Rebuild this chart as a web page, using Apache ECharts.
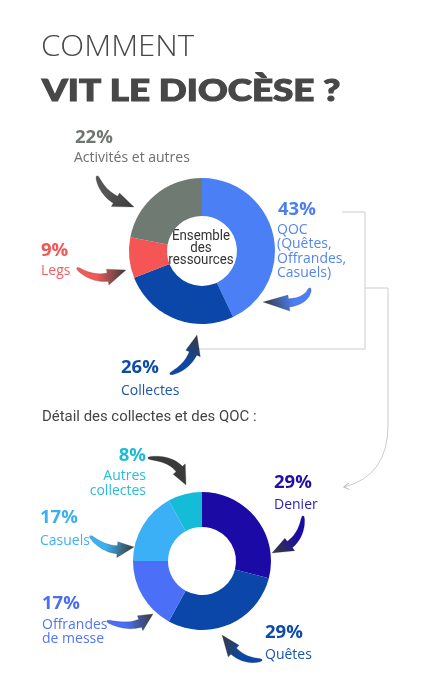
<!DOCTYPE html>
<html>
<head>
<meta charset="utf-8">
<script src="https://cdn.jsdelivr.net/npm/echarts@6/dist/echarts.min.js"></script>
<style>
html,body{margin:0;padding:0;background:#fff;}
#chart{width:421px;height:682px;}
</style>
</head>
<body>
<div id="chart"></div>
<script>
// ---- Data ----
const titleLine1 = 'COMMENT';
const titleLine2 = 'VIT LE DIOCÈSE ?';
const centerText = 'Ensemble\ndes\nressources';
const detailTitle = 'Détail des collectes et des QOC :';

const mainCategories = ['QOC\n(Quêtes,\nOffrandes,\nCasuels)', 'Collectes', 'Legs', 'Activités et autres'];
const mainValues = [43, 26, 9, 22];
const mainColors = ['#4a7ff5', '#0a47a8', '#f65555', '#6f7a72'];

const detailCategories = ['Denier', 'Quêtes', 'Offrandes\nde messe', 'Casuels', 'Autres\ncollectes'];
const detailValues = [29, 29, 17, 17, 8];
const detailColors = ['#1b0aa6', '#0b47a8', '#4b6ff6', '#3bb0f6', '#14bcd8'];

// ---- Chart ----
const chart = echarts.init(document.getElementById('chart'), null, {renderer: 'canvas'});

function pieData(cats, vals, cols) {
  return cats.map((c, i) => ({name: c, value: vals[i], itemStyle: {color: cols[i]}}));
}

// tapered curved arrow (decoration)
function arrow(p0, c, p1, color) {
  const N = 16, tHead = 0.64;
  function q(t) {
    const a = (1 - t) * (1 - t), b = 2 * (1 - t) * t, d = t * t;
    return [a * p0[0] + b * c[0] + d * p1[0], a * p0[1] + b * c[1] + d * p1[1]];
  }
  function dq(t) {
    const x = 2 * (1 - t) * (c[0] - p0[0]) + 2 * t * (p1[0] - c[0]);
    const y = 2 * (1 - t) * (c[1] - p0[1]) + 2 * t * (p1[1] - c[1]);
    const l = Math.hypot(x, y) || 1;
    return [-y / l, x / l];
  }
  const left = [], right = [];
  for (let i = 0; i <= N; i++) {
    const t = tHead * i / N;
    const p = q(t), n = dq(t);
    const w = 0.8 + 3.4 * Math.sqrt(i / N);
    left.push([p[0] + n[0] * w, p[1] + n[1] * w]);
    right.push([p[0] - n[0] * w, p[1] - n[1] * w]);
  }
  const ph = q(tHead), nh = dq(tHead);
  const hw = 8;
  const head = [[ph[0] + nh[0] * hw, ph[1] + nh[1] * hw], p1, [ph[0] - nh[0] * hw, ph[1] - nh[1] * hw]];
  const poly = left.concat(head, right.slice().reverse());
  return {
    type: 'polygon',
    silent: true,
    z: 10,
    shape: {points: poly},
    style: {
      fill: new echarts.graphic.LinearGradient(p0[0], p0[1], p1[0], p1[1],
        [{offset: 0, color: color}, {offset: 0.4, color: color}, {offset: 1, color: '#3a3a3a'}], true),
      stroke: 'rgba(50,50,50,0.35)', lineWidth: 0.6
    }
  };
}

function txt(x, y, text, color, size, weight, family, align, lh, sx, strokeW) {
  const st = {
    text: text, fill: color, fontSize: size, fontWeight: weight || 'normal',
    fontFamily: family || 'Open Sans', align: align || 'left', verticalAlign: 'middle',
    lineHeight: lh || size * 1.2
  };
  if (strokeW) { st.stroke = color; st.lineWidth = strokeW; }
  return {type: 'text', silent: true, x: x, y: y, scaleX: sx || 1, style: st};
}

const PF = 'Open Sans';
const graphics = [
  txt(41, 47, titleLine1, '#474747', 30, 300, 'Open Sans', 'left', 36, 1.04),
  txt(42, 91, titleLine2, '#474747', 30, 900, 'Lato', 'left', 36, 1.225, 1.1),
  // top labels
  txt(75, 138, mainValues[3] + '%', '#6e7770', 18.5, 'bold', PF),
  txt(74, 158, mainCategories[3], '#6c6f6d', 14, 'normal', PF),
  txt(41, 251, mainValues[2] + '%', '#f25757', 18.5, 'bold', PF),
  txt(41, 271, mainCategories[2], '#f25f5f', 14, 'normal', PF),
  txt(278, 210, mainValues[0] + '%', '#4a7ef2', 18.5, 'bold', PF),
  txt(277, 251.5, mainCategories[0], '#5585f0', 14, 'normal', PF, 'left', 14.3),
  txt(121, 368, mainValues[1] + '%', '#0e4aa8', 18.5, 'bold', PF),
  txt(121, 391, mainCategories[1], '#1a55ab', 14, 'normal', PF),
  // center
  txt(201, 248, centerText, '#333333', 14, 'normal', 'Roboto', 'center', 12, 0.95),
  txt(42, 417, detailTitle, '#444444', 14, 'normal', 'Roboto', 'left', 17, 1.065),
  // bottom labels
  txt(146, 456, detailValues[4] + '%', '#1cbcd8', 18.5, 'bold', PF, 'right'),
  txt(146, 483.5, detailCategories[4], '#2cbcd8', 14, 'normal', PF, 'right', 14.5),
  txt(274, 483, detailValues[0] + '%', '#220fa6', 18.5, 'bold', PF),
  txt(274, 505, detailCategories[0], '#2a1ea6', 14, 'normal', PF),
  txt(40, 518, detailValues[3] + '%', '#3ab0f2', 18.5, 'bold', PF),
  txt(40, 541, detailCategories[3], '#40b2f2', 14, 'normal', PF),
  txt(42, 604, detailValues[2] + '%', '#4b6ff2', 18.5, 'bold', PF),
  txt(42, 632, detailCategories[2], '#5276f2', 14, 'normal', PF, 'left', 14),
  txt(265, 633, detailValues[1] + '%', '#0e4aa8', 18.5, 'bold', PF),
  txt(265, 655, detailCategories[1], '#1a55ab', 14, 'normal', PF),
  // connector lines
  {type: 'polyline', silent: true, shape: {points: [[342, 212], [365, 212], [365, 349], [198, 349]]},
    style: {stroke: '#cccccc', lineWidth: 1, fill: null}},
  {type: 'polyline', silent: true, shape: {points: [[365, 288], [388, 288], [388, 425]]},
    style: {stroke: '#cccccc', lineWidth: 1, fill: null}},
  {type: 'bezierCurve', silent: true, shape: {x1: 388, y1: 425, cpx1: 388, cpy1: 476, x2: 344, y2: 487},
    style: {stroke: '#cccccc', lineWidth: 1, fill: null}},
  {type: 'polyline', silent: true, shape: {points: [[349, 483], [343.5, 487], [349.5, 489.5]]},
    style: {stroke: '#bbbbbb', lineWidth: 1, fill: null}},
  // arrows
  arrow([97, 176], [104, 200], [134, 207], '#555555'),
  arrow([77, 268], [100, 286], [126, 270], '#f25a5a'),
  arrow([310, 288], [306, 308], [263, 302], '#4a7ef5'),
  arrow([170, 374], [196, 364], [197, 335], '#0a47a8'),
  arrow([148, 458], [182, 458], [186, 485], '#3a3a3a'),
  arrow([303, 516], [302, 545], [272, 553], '#1a0aa8'),
  arrow([90, 536], [110, 556], [134, 547], '#3ab0f5'),
  arrow([107, 621], [138, 632], [153, 614], '#4a6ef5'),
  arrow([262, 660], [236, 663], [222, 635], '#0a47a8')
];

chart.setOption({
  animation: false,
  backgroundColor: '#ffffff',
  series: [
    {
      type: 'pie', silent: true, center: [202, 251], radius: [35, 73],
      startAngle: 90, clockwise: true, label: {show: false}, labelLine: {show: false},
      itemStyle: {borderWidth: 0},
      data: pieData(mainCategories, mainValues, mainColors)
    },
    {
      type: 'pie', silent: true, center: [202, 561], radius: [34, 69],
      startAngle: 90, clockwise: true, label: {show: false}, labelLine: {show: false},
      itemStyle: {borderWidth: 0},
      data: pieData(detailCategories, detailValues, detailColors)
    }
  ],
  graphic: {elements: graphics}
});
</script>
</body>
</html>
